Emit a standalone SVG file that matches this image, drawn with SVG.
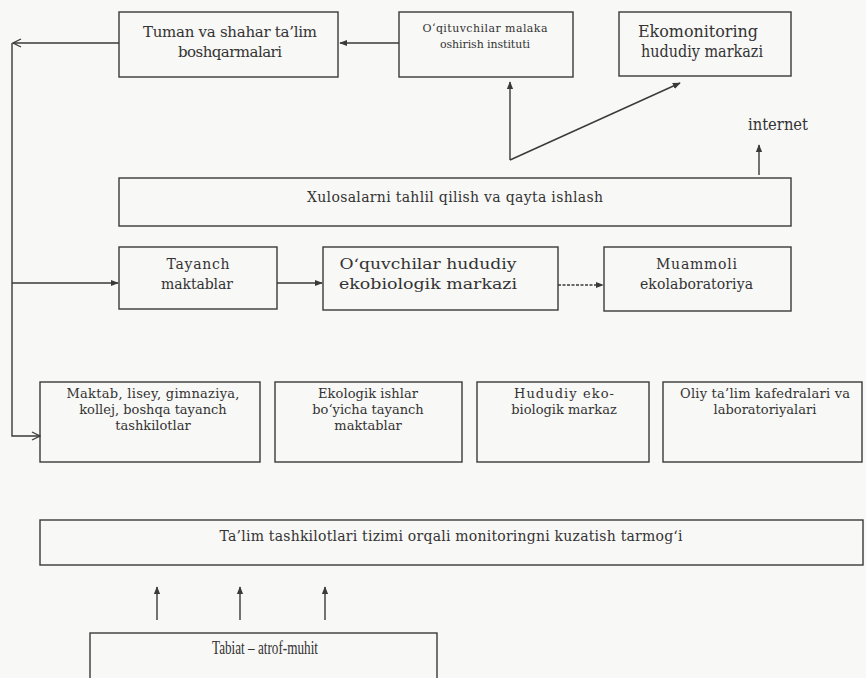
<svg xmlns="http://www.w3.org/2000/svg" width="866" height="678" viewBox="0 0 866 678">
<defs>
<style>
.box{fill:none;stroke:#3a3a3a;stroke-width:1.4}
.t{font-family:'DejaVu Serif','Liberation Serif',serif;fill:#333;text-anchor:middle}
.tt{font-family:'Liberation Serif','Times New Roman',serif;fill:#333;text-anchor:middle}
.f14{font-size:14px}
.f13{font-size:13px}
.f11{font-size:11px}
.f15{font-size:15px}
.f16{font-size:16px}
.f18{font-size:18px}
.ln{fill:none;stroke:#3a3a3a;stroke-width:1.4}
</style>
<marker id="arr" viewBox="0 0 10 10" refX="9" refY="5" markerWidth="8" markerHeight="8" markerUnits="userSpaceOnUse" orient="auto">
<path d="M0,1 L10,5 L0,9 z" fill="#3a3a3a"/>
</marker>
<marker id="open" viewBox="0 0 10 10" refX="9" refY="5" markerWidth="10" markerHeight="10" markerUnits="userSpaceOnUse" orient="auto">
<path d="M1,1 L9,5 L1,9" fill="none" stroke="#3a3a3a" stroke-width="1.3"/>
</marker>
</defs>
<rect width="866" height="678" fill="#f8f8f6"/>

<g id="connectors">
<line class="ln" x1="399" y1="43" x2="340" y2="43" marker-end="url(#arr)"/>
<line class="ln" x1="119" y1="43" x2="13" y2="43" marker-end="url(#open)"/>
<path class="ln" d="M12,43 V436 H40" marker-end="url(#open)"/>
<line class="ln" x1="12" y1="283" x2="118" y2="283" marker-end="url(#arr)"/>
<line class="ln" x1="277" y1="283" x2="322" y2="283" marker-end="url(#arr)"/>
<line class="ln" x1="558" y1="285" x2="603" y2="285" stroke-dasharray="3 1.5" marker-end="url(#arr)"/>
<line class="ln" x1="510" y1="160" x2="510" y2="82" marker-end="url(#arr)"/>
<line class="ln" x1="510" y1="160" x2="680" y2="83" marker-end="url(#arr)"/>
<line class="ln" x1="759" y1="175" x2="759" y2="145" marker-end="url(#arr)"/>
<line class="ln" x1="157" y1="620" x2="157" y2="587" marker-end="url(#arr)"/>
<line class="ln" x1="240" y1="620" x2="240" y2="587" marker-end="url(#arr)"/>
<line class="ln" x1="325" y1="620" x2="325" y2="587" marker-end="url(#arr)"/>
</g>

<g id="tuman">
<rect class="box" x="119" y="12" width="219" height="65"/>
<text class="t f15" x="230" y="37" textLength="174">Tuman va shahar ta’lim</text>
<text class="t f15" x="230" y="57" textLength="104">boshqarmalari</text>
</g>

<g id="institut">
<rect class="box" x="399" y="12" width="174" height="65"/>
<text class="t f11" x="485" y="32" textLength="125">O‘qituvchilar malaka</text>
<text class="t f11" x="485" y="48" textLength="90">oshirish instituti</text>
</g>

<g id="ekomonitoring">
<rect class="box" x="619" y="12" width="172" height="64"/>
<text class="t f16" x="698" y="37" textLength="120" lengthAdjust="spacingAndGlyphs">Ekomonitoring</text>
<text class="t f16" x="702" y="57" textLength="122" lengthAdjust="spacingAndGlyphs">hududiy markazi</text>
</g>

<g id="internet">
<text class="t f16" x="778" y="130" textLength="60" lengthAdjust="spacingAndGlyphs">internet</text>
</g>

<g id="xulosalar">
<rect class="box" x="119" y="178" width="672" height="48"/>
<text class="t f14" x="455" y="202" textLength="296">Xulosalarni tahlil qilish va qayta ishlash</text>
</g>

<g id="tayanch">
<rect class="box" x="119" y="247" width="158" height="62"/>
<text class="t f14" x="198" y="269" textLength="63">Tayanch</text>
<text class="t f14" x="197" y="289" textLength="72">maktablar</text>
</g>

<g id="oquvchilar">
<rect class="box" x="323" y="247" width="235" height="63"/>
<text class="t f14" x="428" y="269" textLength="177" lengthAdjust="spacingAndGlyphs">O‘quvchilar hududiy</text>
<text class="t f14" x="428" y="289" textLength="178" lengthAdjust="spacingAndGlyphs">ekobiologik markazi</text>
</g>

<g id="muammoli">
<rect class="box" x="604" y="247" width="187" height="64"/>
<text class="t f14" x="696.5" y="269" textLength="81">Muammoli</text>
<text class="t f14" x="696.5" y="289" textLength="113">ekolaboratoriya</text>
</g>

<g id="maktab">
<rect class="box" x="40" y="382" width="220" height="80"/>
<text class="t f13" x="153" y="398" textLength="173">Maktab, lisey, gimnaziya,</text>
<text class="t f13" x="153" y="414">kollej, boshqa tayanch</text>
<text class="t f13" x="153" y="430">tashkilotlar</text>
</g>

<g id="ekologik">
<rect class="box" x="275" y="382" width="187" height="80"/>
<text class="t f13" x="368" y="398" textLength="100">Ekologik ishlar</text>
<text class="t f13" x="368" y="414">bo‘yicha tayanch</text>
<text class="t f13" x="368" y="430">maktablar</text>
</g>

<g id="hududiy">
<rect class="box" x="477" y="382" width="172" height="80"/>
<text class="t f13" x="564" y="398" textLength="100">Hududiy eko-</text>
<text class="t f13" x="564" y="414">biologik markaz</text>
</g>

<g id="oliy">
<rect class="box" x="663" y="382" width="199" height="80"/>
<text class="t f13" x="765" y="398" textLength="170">Oliy ta’lim kafedralari va</text>
<text class="t f13" x="765" y="414">laboratoriyalari</text>
</g>

<g id="talim">
<rect class="box" x="40" y="520" width="823" height="45"/>
<text class="t f14" x="451" y="541" textLength="463">Ta’lim tashkilotlari tizimi orqali monitoringni kuzatish tarmog‘i</text>
</g>

<g id="tabiat">
<rect class="box" x="90" y="633" width="347" height="60"/>
<text class="tt f18" x="265" y="654" textLength="106" lengthAdjust="spacingAndGlyphs">Tabiat – atrof-muhit</text>
</g>
</svg>
